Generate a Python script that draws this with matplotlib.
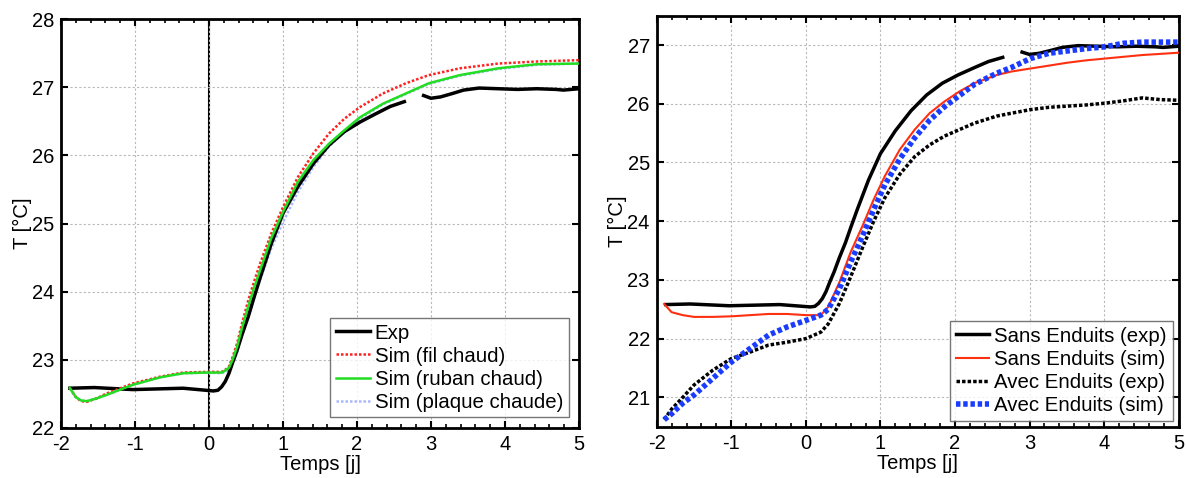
import matplotlib.pyplot as plt
from matplotlib.ticker import MultipleLocator

plt.rcParams['font.family'] = ['Liberation Sans', 'DejaVu Sans']
plt.rcParams['axes.unicode_minus'] = False

# ---- left panel data ----
x_exp = [-1.88, -1.55, -1.03, -0.35, 0.06, 0.12, 0.17, 0.22, 0.27, 0.32, 0.38, 0.45, 0.53,
         0.61, 0.69, 0.84, 1.0, 1.2, 1.41, 1.62, 1.83, 2.04, 2.25, 2.45, 2.64,
         None,
         2.9, 3.0, 3.13, 3.29, 3.44, 3.65, 3.91, 4.17, 4.43, 4.69, 4.79, 5.0]
t_exp = [22.58, 22.59, 22.56, 22.58, 22.54, 22.55, 22.6, 22.68, 22.8, 22.96, 23.14, 23.38,
         23.63, 23.92, 24.2, 24.7, 25.15, 25.54, 25.88, 26.15, 26.35, 26.49, 26.61, 26.72,
         26.79,
         None,
         26.88, 26.84, 26.86, 26.91, 26.96, 26.99, 26.98, 26.97, 26.98, 26.97, 26.96, 26.98]

x_sim = [-1.88, -1.8, -1.73, -1.65, -1.52, -1.39, -1.03, -0.66, -0.35, -0.04, 0.17, 0.22,
         0.27, 0.32, 0.38, 0.45, 0.53, 0.61, 0.69, 0.84, 1.0, 1.2, 1.41, 1.62, 1.83, 2.04,
         2.35, 2.66, 2.97, 3.39, 3.91, 4.43, 5.0]
t_fil = [22.58, 22.45, 22.39, 22.38, 22.43, 22.5, 22.65, 22.75, 22.81, 22.82, 22.82, 22.85,
         22.9, 23.04, 23.24, 23.55, 23.87, 24.15, 24.41, 24.85, 25.24, 25.68, 26.03, 26.32,
         26.54, 26.71, 26.91, 27.06, 27.18, 27.28, 27.35, 27.38, 27.4]
t_ruban = [22.58, 22.45, 22.4, 22.39, 22.43, 22.48, 22.63, 22.74, 22.8, 22.81, 22.81, 22.84,
           22.88, 23.0, 23.19, 23.48, 23.78, 24.06, 24.31, 24.78, 25.17, 25.61, 25.93, 26.17,
           26.37, 26.56, 26.76, 26.91, 27.06, 27.18, 27.28, 27.34, 27.35]
t_plaque = [22.58, 22.45, 22.4, 22.39, 22.43, 22.48, 22.63, 22.74, 22.8, 22.81, 22.8, 22.82,
            22.85, 22.95, 23.1, 23.4, 23.7, 23.95, 24.17, 24.63, 25.02, 25.46, 25.83, 26.13,
            26.35, 26.54, 26.75, 26.9, 27.05, 27.17, 27.27, 27.33, 27.35]

# ---- right panel data ----
x_r = [-1.9, -1.8, -1.65, -1.5, -1.25, -1.0, -0.75, -0.5, -0.25, 0.0, 0.2, 0.3, 0.45, 0.6,
       0.76, 0.91, 1.06, 1.26, 1.46, 1.66, 1.86, 2.06, 2.26, 2.56, 2.76, 3.01, 3.26, 3.51,
       3.76, 4.01, 4.26, 4.51, 4.76, 5.0]
t_sans_sim = [22.59, 22.45, 22.4, 22.37, 22.37, 22.38, 22.4, 22.42, 22.42, 22.4, 22.4, 22.54,
              22.96, 23.47, 23.92, 24.37, 24.77, 25.22, 25.56, 25.84, 26.04, 26.21, 26.35,
              26.49, 26.55, 26.6, 26.65, 26.7, 26.74, 26.77, 26.8, 26.83, 26.85, 26.87]
t_avec_exp = [20.62, 20.8, 21.0, 21.21, 21.46, 21.66, 21.77, 21.89, 21.94, 22.0, 22.11, 22.25,
              22.6, 23.05, 23.55, 24.0, 24.4, 24.8, 25.1, 25.3, 25.45, 25.56, 25.67, 25.79,
              25.84, 25.9, 25.94, 25.96, 25.98, 26.01, 26.05, 26.1, 26.07, 26.06]
t_avec_sim = [20.62, 20.72, 20.9, 21.04, 21.32, 21.6, 21.83, 22.06, 22.2, 22.31, 22.4, 22.5,
              22.85, 23.3, 23.75, 24.2, 24.62, 25.06, 25.42, 25.72, 25.95, 26.14, 26.33,
              26.52, 26.62, 26.77, 26.86, 26.9, 26.94, 26.97, 27.03, 27.05, 27.05, 27.05]


def style_axes(ax, ylim, yticks):
    ax.set_xlim(-2, 5)
    ax.set_ylim(*ylim)
    ax.set_xticks(range(-2, 6))
    ax.set_yticks(yticks)
    ax.xaxis.set_minor_locator(MultipleLocator(0.2))
    ax.tick_params(axis="both", which="major", direction="in", length=5, width=1.5,
                   top=True, right=True, labelsize=14.5, pad=5)
    ax.tick_params(axis="x", which="minor", direction="in", length=3, width=1.2,
                   top=True, bottom=True)
    ax.tick_params(axis="y", which="minor", left=False, right=False)
    ax.grid(True, which="major", color="#b8b8b8", linestyle=(0, (2, 2)), linewidth=0.8)
    for s in ax.spines.values():
        s.set_linewidth(2)
    ax.set_xlabel("Temps [j]", fontsize=14.5, labelpad=1)
    ax.set_ylabel("T [°C]", fontsize=14.5, labelpad=0)


def style_legend(ax, pad):
    leg = ax.legend(loc="lower right", fontsize=14.7, frameon=True, fancybox=False,
                    handlelength=1.65, handletextpad=0.25, borderpad=0.28,
                    labelspacing=0.2, borderaxespad=pad)
    leg.get_frame().set_edgecolor("#555555")
    leg.get_frame().set_linewidth(1)


fig = plt.figure(figsize=(11.86, 4.78), dpi=100)
ax1 = fig.add_axes([61 / 1186, 1 - 427.7 / 478, 518 / 1186, 408.4 / 478])
ax2 = fig.add_axes([656.7 / 1186, 1 - 426.7 / 478, 522 / 1186, 411 / 478])

style_axes(ax1, (22, 28), range(22, 29))
ax1.axvline(0, color="black", linewidth=1.5, zorder=1)
ax1.plot(x_exp, t_exp, color="black", linewidth=2.5, label="Exp", zorder=3)
ax1.plot(x_sim, t_fil, color="#ff2020", linewidth=1.8, linestyle=(0, (1, 0.8)),
         label="Sim (fil chaud)", zorder=4)
ax1.plot(x_sim, t_ruban, color="#22dd22", linewidth=1.8, label="Sim (ruban chaud)", zorder=4)
ax1.plot(x_sim, t_plaque, color="#a8b8ff", linewidth=1.8, linestyle=(0, (1, 0.8)),
         label="Sim (plaque chaude)", zorder=2)
style_legend(ax1, 0.5)

style_axes(ax2, (20.5, 27.5), range(21, 28))
ax2.plot(x_exp, t_exp, color="black", linewidth=2.5, label="Sans Enduits (exp)", zorder=3)
ax2.plot(x_r, t_sans_sim, color="#ff3010", linewidth=1.5, label="Sans Enduits (sim)", zorder=3)
ax2.plot(x_r, t_avec_exp, color="black", linewidth=2.5, linestyle=(0, (1, 0.6)),
         label="Avec Enduits (exp)", zorder=3)
ax2.plot(x_r, t_avec_sim, color="#1a3cff", linewidth=4, linestyle=(0, (0.8, 0.5)),
         label="Avec Enduits (sim)", zorder=4)
style_legend(ax2, 0.3)

fig.savefig("out.png", dpi=100)
